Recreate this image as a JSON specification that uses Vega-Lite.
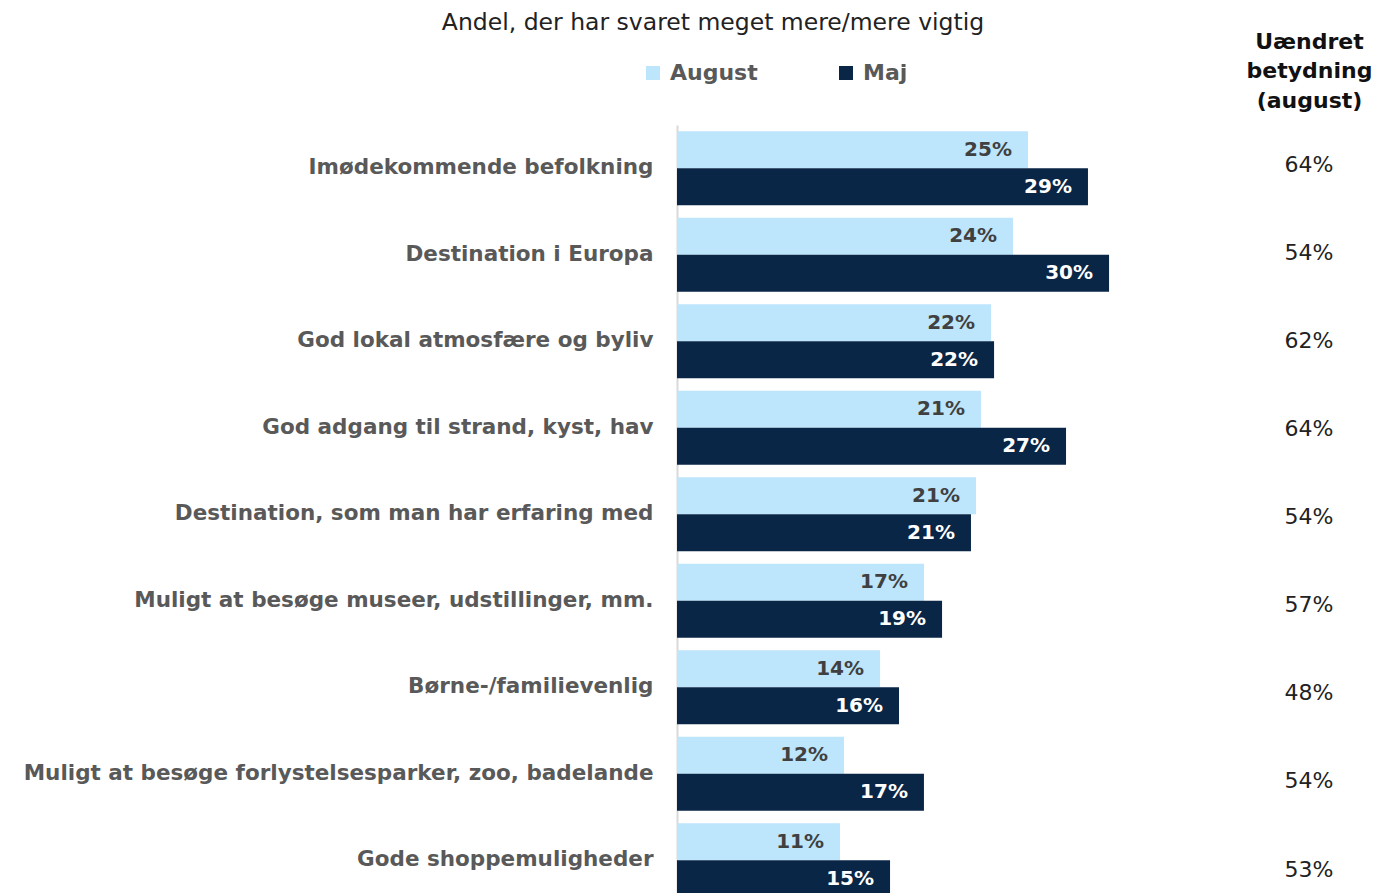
{
  "$schema": "https://vega.github.io/schema/vega-lite/v6.json",
  "autosize": "none",
  "padding": {"left": 677, "top": 125, "right": 15, "bottom": 0},
  "width": 684,
  "height": 778.5,
  "title": {
    "text": "Andel, der har svaret meget mere/mere vigtig",
    "anchor": "middle",
    "frame": "group",
    "dx": -306,
    "dy": 4,
    "font": "DejaVu Sans",
    "fontSize": 23.5,
    "fontWeight": "normal",
    "color": "#222222",
    "offset": 0
  },
  "config": {
    "view": {"stroke": null},
    "font": "DejaVu Sans"
  },
  "datasets": {
    "bars": [
      {"kategori": "Imødekommende befolkning", "serie": "August", "andel": 0.2463},
      {"kategori": "Imødekommende befolkning", "serie": "Maj", "andel": 0.2884},
      {"kategori": "Destination i Europa", "serie": "August", "andel": 0.2358},
      {"kategori": "Destination i Europa", "serie": "Maj", "andel": 0.3032},
      {"kategori": "God lokal atmosfære og byliv", "serie": "August", "andel": 0.2204},
      {"kategori": "God lokal atmosfære og byliv", "serie": "Maj", "andel": 0.2225},
      {"kategori": "God adgang til strand, kyst, hav", "serie": "August", "andel": 0.2133},
      {"kategori": "God adgang til strand, kyst, hav", "serie": "Maj", "andel": 0.273},
      {"kategori": "Destination, som man har erfaring med", "serie": "August", "andel": 0.2098},
      {"kategori": "Destination, som man har erfaring med", "serie": "Maj", "andel": 0.2063},
      {"kategori": "Muligt at besøge museer, udstillinger, mm.", "serie": "August", "andel": 0.1733},
      {"kategori": "Muligt at besøge museer, udstillinger, mm.", "serie": "Maj", "andel": 0.186},
      {"kategori": "Børne-/familievenlig", "serie": "August", "andel": 0.1425},
      {"kategori": "Børne-/familievenlig", "serie": "Maj", "andel": 0.1558},
      {"kategori": "Muligt at besøge forlystelsesparker, zoo, badelande", "serie": "August", "andel": 0.1172},
      {"kategori": "Muligt at besøge forlystelsesparker, zoo, badelande", "serie": "Maj", "andel": 0.1733},
      {"kategori": "Gode shoppemuligheder", "serie": "August", "andel": 0.1144},
      {"kategori": "Gode shoppemuligheder", "serie": "Maj", "andel": 0.1495}
    ],
    "uaendret": [
      {"kategori": "Imødekommende befolkning", "uaendret": 0.64},
      {"kategori": "Destination i Europa", "uaendret": 0.54},
      {"kategori": "God lokal atmosfære og byliv", "uaendret": 0.62},
      {"kategori": "God adgang til strand, kyst, hav", "uaendret": 0.64},
      {"kategori": "Destination, som man har erfaring med", "uaendret": 0.54},
      {"kategori": "Muligt at besøge museer, udstillinger, mm.", "uaendret": 0.57},
      {"kategori": "Børne-/familievenlig", "uaendret": 0.48},
      {"kategori": "Muligt at besøge forlystelsesparker, zoo, badelande", "uaendret": 0.54},
      {"kategori": "Gode shoppemuligheder", "uaendret": 0.53}
    ]
  },
  "resolve": {"scale": {"y": "independent"}, "axis": {"y": "independent"}},
  "layer": [
    {
      "data": {"name": "bars"},
      "encoding": {
        "y": {
          "field": "kategori",
          "type": "nominal",
          "sort": null,
          "scale": {"paddingInner": 0.145, "paddingOuter": 0.0725},
          "axis": {
            "title": null,
            "ticks": false,
            "domainColor": "#d9d9d9",
            "domainWidth": 2,
            "labelPadding": 24,
            "labelFont": "DejaVu Sans",
            "labelFontSize": 21.5,
            "labelFontWeight": "bold",
            "labelColor": "#595959",
            "labelLimit": 0
          }
        },
        "yOffset": {"field": "serie", "type": "nominal", "sort": ["August", "Maj"]},
        "x": {
          "field": "andel",
          "type": "quantitative",
          "scale": {"domain": [0, 0.48], "nice": false, "zero": true},
          "axis": null
        }
      },
      "layer": [
        {
          "mark": {"type": "bar"},
          "encoding": {
            "color": {
              "field": "serie",
              "type": "nominal",
              "scale": {"domain": ["August", "Maj"], "range": ["#BDE5FC", "#0A2646"]},
              "legend": {
                "title": null,
                "orient": "none",
                "direction": "horizontal",
                "legendX": -35,
                "legendY": -63,
                "symbolType": "square",
                "symbolSize": 196,
                "symbolStrokeWidth": 0,
                "labelFont": "DejaVu Sans",
                "labelFontSize": 22,
                "labelFontWeight": "bold",
                "labelColor": "#595959",
                "labelOffset": 6,
                "columnPadding": 77
              }
            }
          }
        },
        {
          "mark": {"type": "text", "align": "right", "baseline": "middle", "dx": -16, "font": "DejaVu Sans", "fontSize": 20, "fontWeight": "bold"},
          "encoding": {
            "text": {"field": "andel", "type": "quantitative", "format": ".0%"},
            "color": {"condition": {"test": "datum.serie === 'Maj'", "value": "#ffffff"}, "value": "#404040"}
          }
        }
      ]
    },
    {
      "data": {"name": "uaendret"},
      "mark": {"type": "text", "align": "center", "baseline": "middle", "dy": 3, "font": "DejaVu Sans", "fontSize": 22, "fontWeight": "normal", "color": "#222222"},
      "encoding": {
        "y": {
          "field": "kategori",
          "type": "nominal",
          "sort": null,
          "scale": {"type": "point", "padding": 0.42},
          "axis": {
            "orient": "right",
            "labels": false,
            "ticks": false,
            "domain": false,
            "title": ["Uændret", "betydning", "(august)"],
            "titleAngle": 0,
            "titleX": -52,
            "titleY": -84,
            "titleAlign": "center",
            "titleBaseline": "middle",
            "titleFont": "DejaVu Sans",
            "titleFontSize": 22,
            "titleFontWeight": "bold",
            "titleColor": "#111111",
            "titleLineHeight": 29.5
          }
        },
        "x": {"datum": 0.4435, "type": "quantitative"},
        "text": {"field": "uaendret", "type": "quantitative", "format": ".0%"}
      }
    }
  ]
}
